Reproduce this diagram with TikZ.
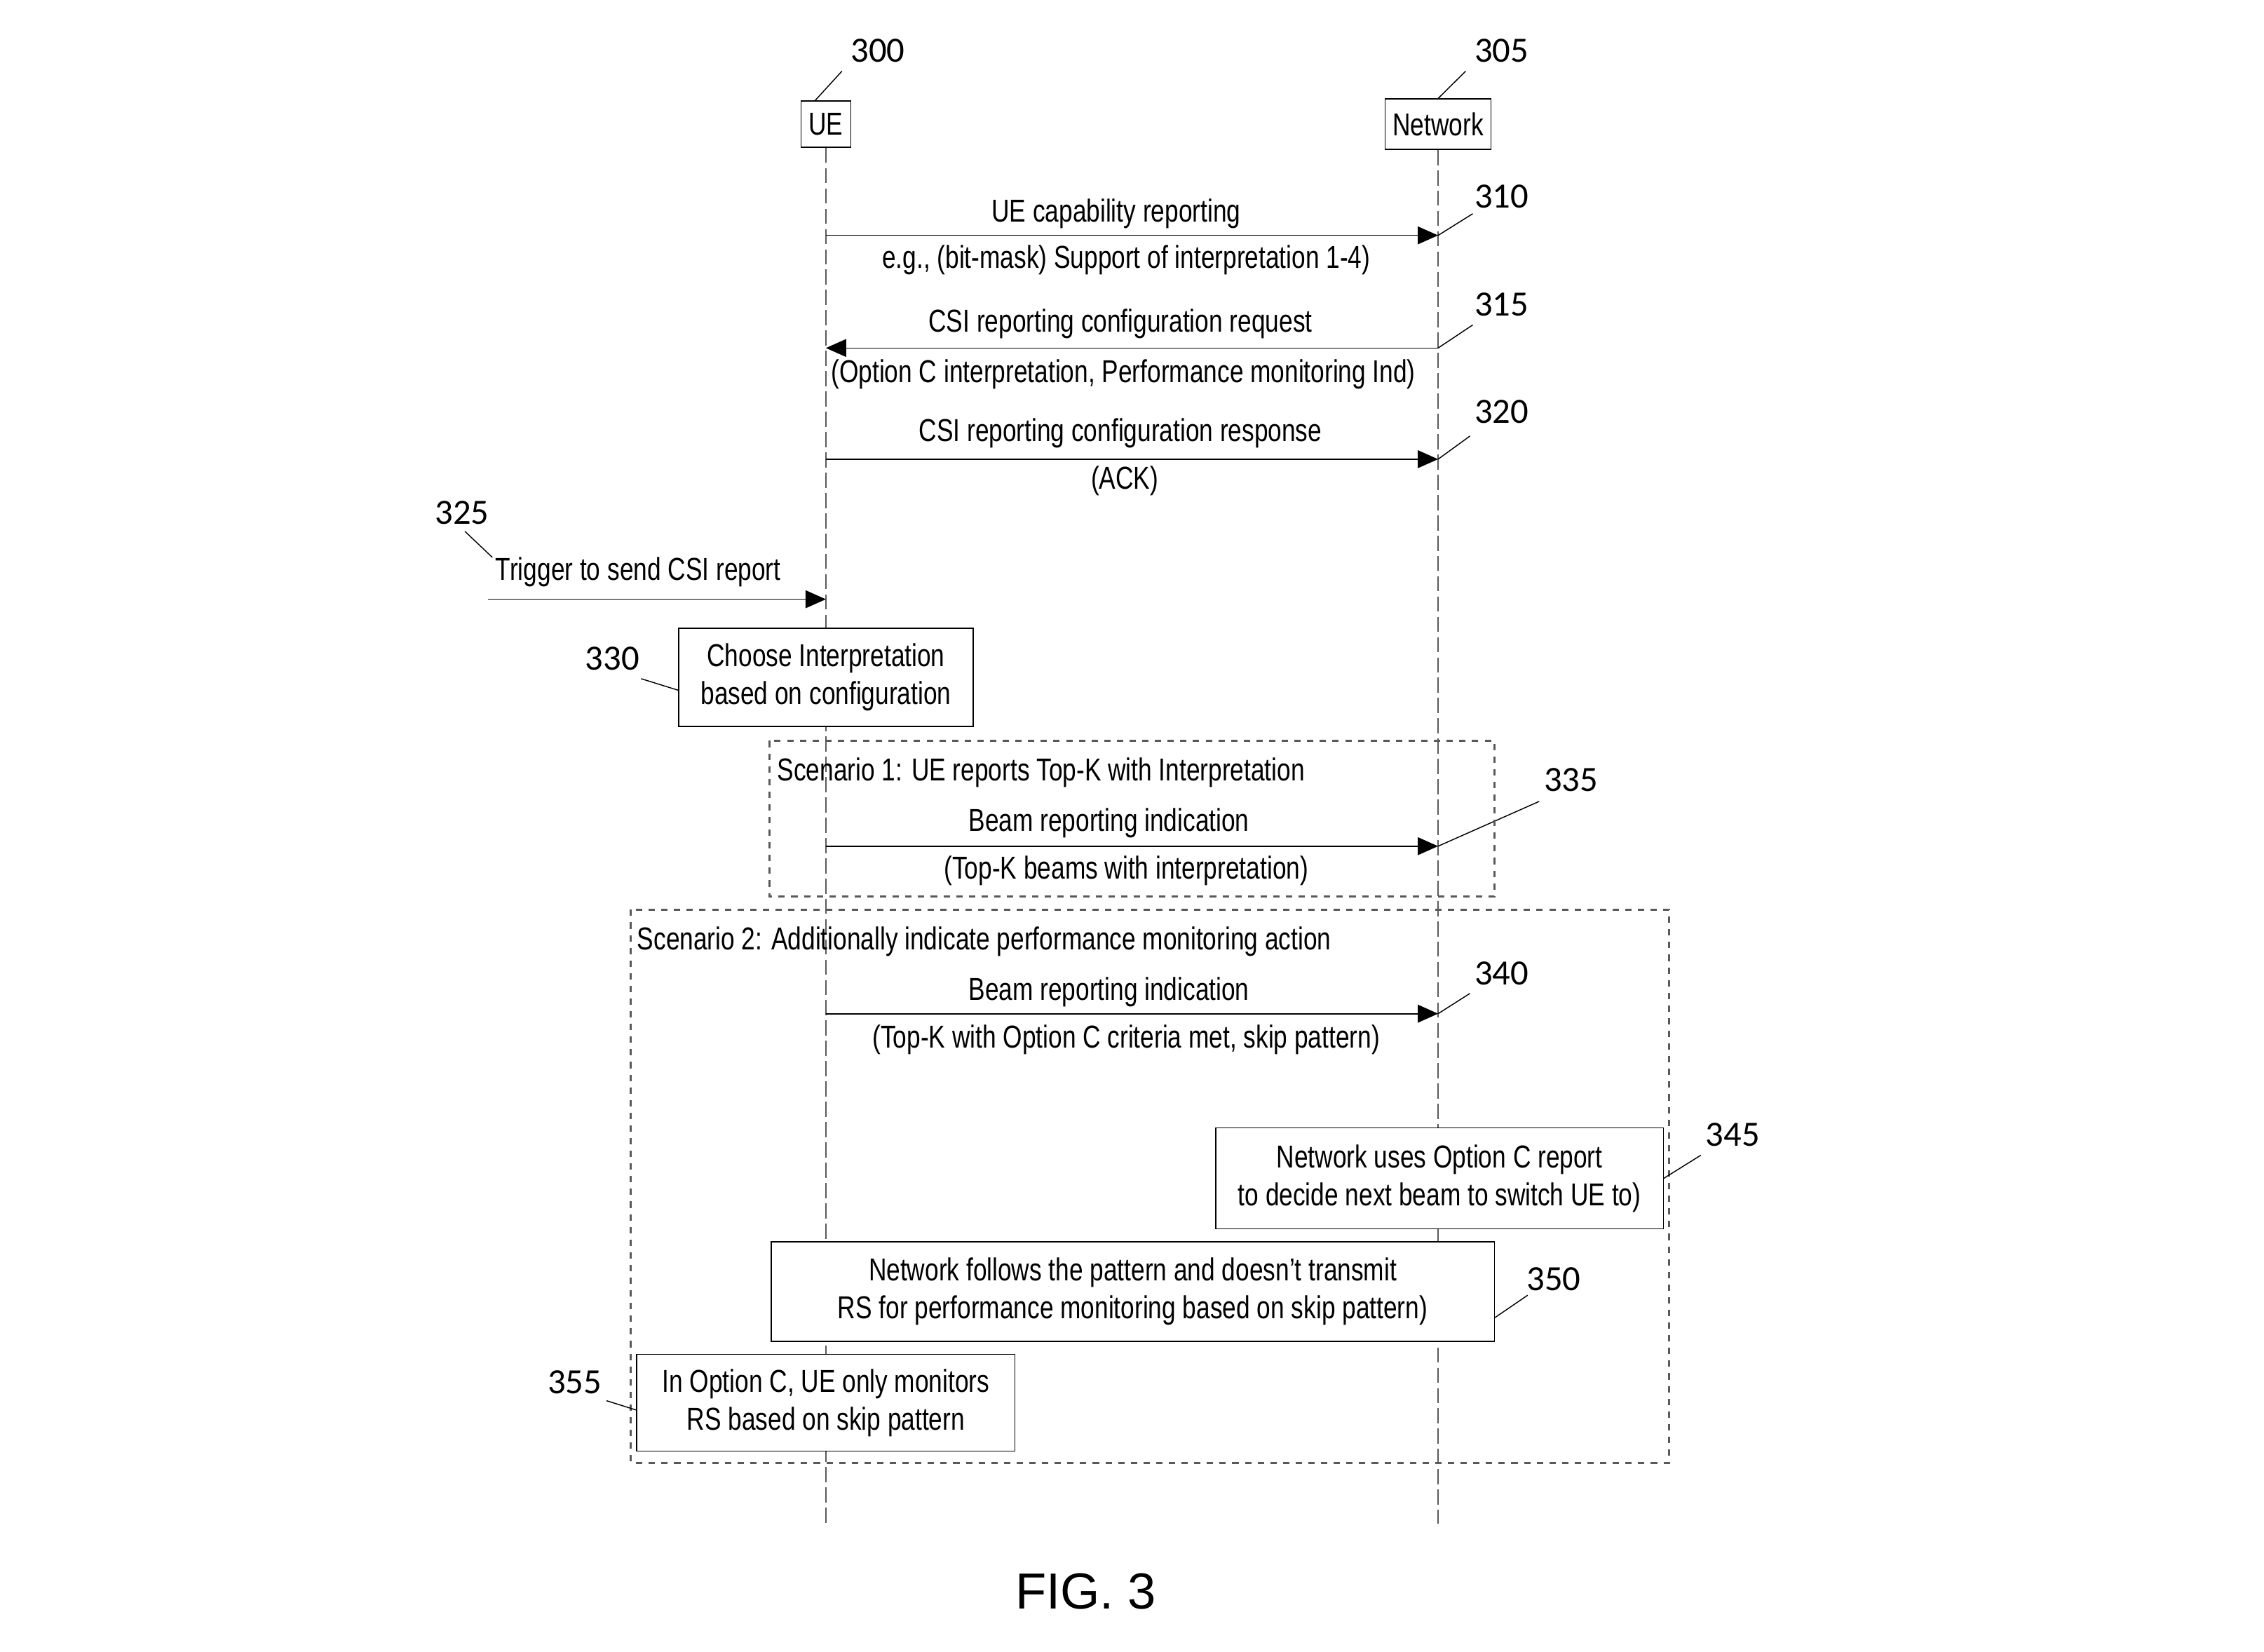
\documentclass[tikz,border=0pt]{standalone}
\usepackage{fontspec}
\setmainfont[FakeStretch=0.78]{Liberation Sans}
\newfontfamily\numfont{Carlito}
\newfontfamily\figfont{Liberation Sans}
\usetikzlibrary{arrows.meta}

\tikzset{
	actor/.style={draw,thin,inner sep=3pt},
	lifeline/.style={thin,gray!70!black,dash pattern=on 6pt off 2pt},
	msg/.style={thin,-{Triangle[length=8pt,width=7pt]}},
	stepbox/.style={draw,thin,fill=white,align=center},
	scenbox/.style={line width=0.8pt,gray!70!black,dash pattern=on 2.5pt off 2.5pt},
	refnum/.style={font=\numfont\fontsize{14}{16}\selectfont},
	leader/.style={thin}
}

\begin{document}
\begin{tikzpicture}[x=0.02cm,y=-0.02cm,font=\fontsize{12.5}{15}\selectfont]
	\useasboundingbox (0,0) rectangle (1568,1144);
	
	\node[actor,minimum height=0.64cm,minimum width=0.64cm] (ue) at (572,86) {UE};
	\node[actor,minimum height=0.7cm] (nw) at (996,86) {Network};
	\coordinate (ueend) at (572,1055);
	\coordinate (nwend) at (996,1055);
	\draw[lifeline] (ue.south) -- (ueend);
	\draw[lifeline] (nw.south) -- (nwend);
	
	\node[refnum] (n300) at (608,35) {300};
	\node[refnum] (n305) at (1040,35) {305};
	\draw[leader] (ue.north west) ++(10,0) -- (n300.south west);
	\draw[leader] (nw.north) -- (n305.south west);
	
	\coordinate (u310) at (572,163);
	\coordinate (n310) at (996,163);
	\coordinate (u315) at (572,241);
	\coordinate (n315) at (996,241);
	\coordinate (u320) at (572,318);
	\coordinate (n320) at (996,318);
	\coordinate (u335) at (572,586);
	\coordinate (n335) at (996,586);
	\coordinate (u340) at (572,702);
	\coordinate (n340) at (996,702);
	\coordinate (trig) at (338,415);
	\coordinate (u325) at (572,415);
	
	\draw[msg] (u310) -- (n310);
	\draw[msg] (n315) -- (u315);
	\draw[msg] (u320) -- (n320);
	\draw[msg] (trig) -- (u325);
	\draw[msg] (u335) -- (n335);
	\draw[msg,semithick] (u340) -- (n340);
	
	\node (t310a) at (773,148) {UE capability reporting};
	\node (t310b) at (780,180) {e.g., (bit-mask) Support of interpretation 1-4)};
	\node (t315a) at (776,224) {CSI reporting configuration request};
	\node (t315b) at (778,259) {(Option C interpretation, Performance monitoring Ind)};
	\node (t320a) at (776,300) {CSI reporting configuration response};
	\node (t320b) at (779,333) {(ACK)};
	\node (t325) at (442,396) {Trigger to send CSI report};
	\node (t335a) at (768,570) {Beam reporting indication};
	\node (t335b) at (780,603) {(Top-K beams with interpretation)};
	\node (t340a) at (768,687) {Beam reporting indication};
	\node (t340b) at (780,720) {(Top-K with Option C criteria met, skip pattern)};
	
	\node[refnum] (r310) at (1040,136) {310};
	\node[refnum] (r315) at (1040,211) {315};
	\node[refnum] (r320) at (1040,285) {320};
	\node[refnum] (r325) at (320,355) {325};
	\node[refnum] (r335) at (1088,540) {335};
	\node[refnum] (r340) at (1040,674) {340};
	\draw[leader] (n310) -- (1020,148);
	\draw[leader] (n315) -- (1020,225);
	\draw[leader] (n320) -- (1018,302);
	\draw[leader] (322,368) -- (341,386);
	\draw[leader] (n335) -- (1066,555);
	\draw[leader] (n340) -- (1018,688);
	
	\node[stepbox,minimum width=4.08cm,minimum height=1.36cm] (s330) at (572,469) {Choose Interpretation\\based on configuration};
	\node[refnum] (r330) at (424,456) {330};
	\draw[leader] (444,470) -- ([yshift=-0.18cm]s330.west);
	
	\draw[scenbox] (533,513) rectangle (1035,621);
	\node[anchor=west,inner sep=0pt] (sc1) at (538,535) {Scenario 1: UE reports Top-K with Interpretation};
	\draw[scenbox] (437,630) rectangle (1156,1013);
	\node[anchor=west,inner sep=0pt] (sc2) at (441,652) {Scenario 2: Additionally indicate performance monitoring action};
	
	\node[stepbox,minimum width=6.2cm,minimum height=1.4cm] (s345) at (997,816) {Network uses Option C report\\to decide next beam to switch UE to)};
	\node[stepbox,minimum width=10.02cm,minimum height=1.38cm] (s350) at (784.5,894.5) {Network follows the pattern and doesn't transmit\\RS for performance monitoring based on skip pattern)};
	\node[stepbox,minimum width=5.24cm,minimum height=1.34cm] (s355) at (572,971.5) {In Option C, UE only monitors\\RS based on skip pattern};
	\node[refnum] (r345) at (1200,786) {345};
	\node[refnum] (r350) at (1076,886) {350};
	\node[refnum] (r355) at (398,957) {355};
	\draw[leader] (s345.east) -- (1178,800);
	\draw[leader] ([yshift=-0.36cm]s350.east) -- (1058,897);
	\draw[leader] (420,970) -- ([yshift=-0.1cm]s355.west);
	
	\node[font=\figfont\fontsize{20}{24}\selectfont] (fig) at (752,1102) {FIG. 3};
\end{tikzpicture}
\end{document}
